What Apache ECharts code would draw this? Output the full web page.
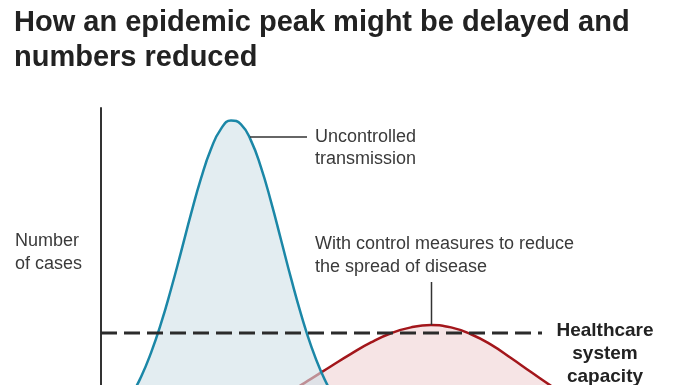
<!DOCTYPE html>
<html>
<head>
<meta charset="utf-8">
<script src="https://cdn.jsdelivr.net/npm/echarts@6/dist/echarts.min.js"></script>
<style>
html,body{margin:0;padding:0;background:#fff;}
#chart{width:696px;height:385px;}
</style>
</head>
<body>
<div id="chart"></div>
<script>
// Uncontrolled transmission curve (x: time units, y: number of cases, relative)
var blueX = [0,2,4,6,8,10,12,14,16,18,20,22,24,26,28,30,32,34,36,38,40,42,44,46,48,50,52,54,56];
var blueY = [2.9,4.8,7.7,11.8,17.5,24.9,33.9,44.4,55.8,67.5,78.4,87.4,93.6,96.2,95.0,90.0,81.8,71.3,59.6,47.8,36.8,27.1,19.2,13.0,8.5,5.3,3.2,1.8,1.0];
// With control measures curve
var redX = [30,34,38,42,46,50,54,58,62,66,70,74,78,82,86,90,94,98,100];
var redY = [7.2,10.0,13.2,16.9,20.8,24.6,28.1,30.9,32.7,33.4,32.7,30.6,27.4,23.3,19.0,14.8,11.0,7.8,6.5];
// Healthcare system capacity level and its drawn extent
var capacityLevel = 31.0;
var capacityExtent = [0, 88.2];

var titleLines = ["How an epidemic peak might be delayed and", "numbers reduced"];
var yAxisLabel = ["Number", "of cases"];
var uncontrolledLabel = ["Uncontrolled", "transmission"];
var controlLabel = ["With control measures to reduce", "the spread of disease"];
var capacityLabel = ["Healthcare", "system", "capacity"];

function pairs(xs, ys){ return xs.map(function(x,i){ return [x, ys[i]]; }); }

var chart = echarts.init(document.getElementById('chart'), null, {renderer:'canvas'});
var FONT = '"Liberation Sans", Arial, Helvetica, sans-serif';

var graphics = [];
titleLines.forEach(function(t,i){
  graphics.push({type:'text', x:14, y:22.5 + i*35, z:100, style:{text:t, font:'bold 29px ' + FONT, fill:'#222', textAlign:'left', textVerticalAlign:'middle'}});
});
yAxisLabel.forEach(function(t,i){
  graphics.push({type:'text', x:15, y:241 + i*23, z:100, style:{text:t, font:'18px ' + FONT, fill:'#3a3a3a', textAlign:'left', textVerticalAlign:'middle'}});
});
uncontrolledLabel.forEach(function(t,i){
  graphics.push({type:'text', x:315, y:137 + i*22, z:100, style:{text:t, font:'18px ' + FONT, fill:'#3a3a3a', textAlign:'left', textVerticalAlign:'middle'}});
});
controlLabel.forEach(function(t,i){
  graphics.push({type:'text', x:315, y:244 + i*23, z:100, style:{text:t, font:'18px ' + FONT, fill:'#3a3a3a', textAlign:'left', textVerticalAlign:'middle'}});
});
capacityLabel.forEach(function(t,i){
  graphics.push({type:'text', x:605, y:331 + i*23, z:100, style:{text:t, font:'bold 19px ' + FONT, fill:'#222', textAlign:'center', textVerticalAlign:'middle'}});
});
// leader lines
graphics.push({type:'line', z:100, shape:{x1:250, y1:137, x2:307, y2:137}, style:{stroke:'#333', lineWidth:1.5}});
graphics.push({type:'line', z:100, shape:{x1:431.5, y1:282, x2:431.5, y2:325}, style:{stroke:'#333', lineWidth:1.5}});

chart.setOption({
  backgroundColor:'#fff',
  animation:false,
  grid:{left:101, top:108, width:500, height:326, outerBoundsMode:'none'},
  xAxis:{type:'value', min:0, max:100, show:false},
  yAxis:{type:'value', min:0, max:100,
    axisLine:{show:true, onZero:false, lineStyle:{color:'#333', width:2}},
    axisTick:{show:false}, axisLabel:{show:false}, splitLine:{show:false}},
  series:[
    {type:'line', data:pairs(redX, redY), smooth:true, symbol:'none',
     lineStyle:{color:'#a3161b', width:2.5},
     areaStyle:{color:'#f6e4e5', opacity:1}, z:2},
    {type:'line', data:pairs(blueX, blueY), smooth:true, symbol:'none',
     lineStyle:{color:'#1b87a7', width:2.5},
     areaStyle:{color:'rgba(208,225,232,0.6)', opacity:1}, z:3},
    {type:'line', data:pairs(capacityExtent, [capacityLevel, capacityLevel]), symbol:'none',
     lineStyle:{color:'#2b2b2b', width:3, type:[16,7]}, z:4}
  ],
  graphic: graphics
});
</script>
</body>
</html>
